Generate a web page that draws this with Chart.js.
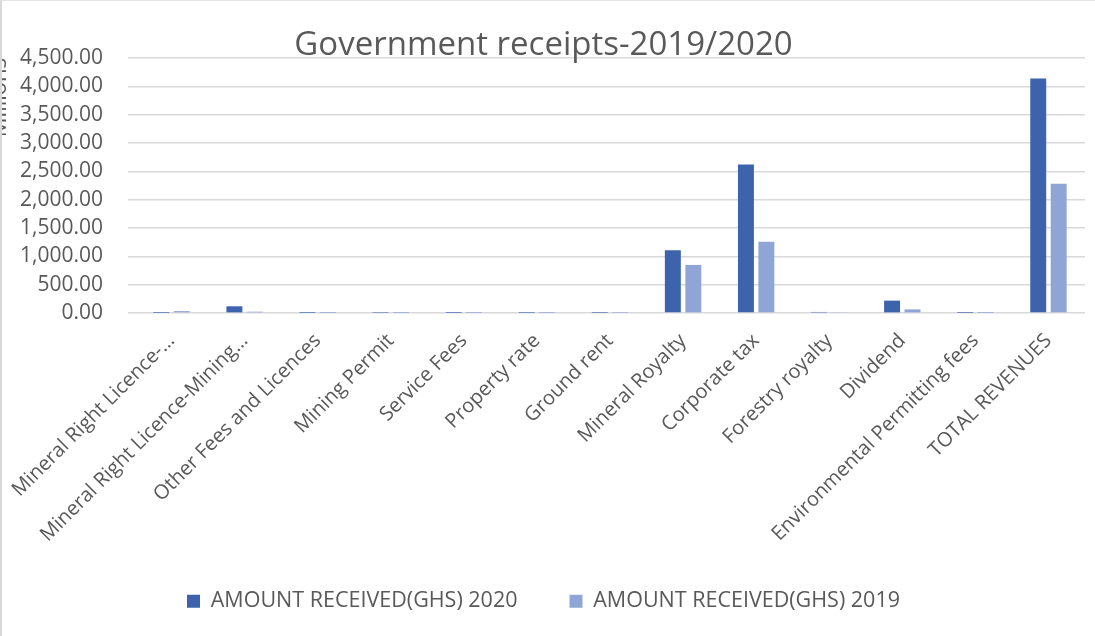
<!DOCTYPE html>
<html>
<head>
<meta charset="utf-8">
<script src="https://cdn.jsdelivr.net/npm/chart.js@4"></script>
<style>
  html, body { margin: 0; padding: 0; background: #fff; }
  .frame {
    width: 1095px; height: 636px; box-sizing: border-box;
    border-left: 2px solid #d9d9d9; border-top: 1px solid #e6e6e6;
    position: relative;
  }
  canvas { display: block; }
</style>
</head>
<body>
<div class="frame"><canvas id="receiptsChart"></canvas></div>
<script>
const categories = [
  'Mineral Right Licence-…',
  'Mineral Right Licence-Mining…',
  'Other Fees and Licences',
  'Mining Permit',
  'Service Fees',
  'Property rate',
  'Ground rent',
  'Mineral Royalty',
  'Corporate tax',
  'Forestry royalty',
  'Dividend',
  'Environmental Permitting fees',
  'TOTAL REVENUES'
];
// millions of GHS
const received2020 = [2, 120, 2, 5, 1, 3, 3, 1110, 2620, 20, 220, 2, 4140];
const received2019 = [35, 25, 1, 2, 1, 2, 4, 850, 1260, 10, 65, 1, 2280];

const textColor = '#595959';
const fontFamily = '"Open Sans", sans-serif';

const ctx = document.getElementById('receiptsChart').getContext('2d');

const receiptsChart = new Chart(ctx, {
  type: 'bar',
  data: {
    labels: categories,
    datasets: [{
      label: 'AMOUNT RECEIVED(GHS) 2020',
      data: received2020,
      backgroundColor: '#3c63ac',
      barPercentage: 0.78,
      categoryPercentage: 0.56
    }, {
      label: 'AMOUNT RECEIVED(GHS) 2019',
      data: received2019,
      backgroundColor: '#8fa5d5',
      barPercentage: 0.78,
      categoryPercentage: 0.56
    }]
  },
  options: {
    responsive: true,
    maintainAspectRatio: false,
    animation: false,
    layout: { padding: { top: 0, right: 10, bottom: 14, left: 0 } },
    plugins: {
      title: {
        display: true,
        text: 'Government receipts-2019/2020',
        color: textColor,
        font: { family: fontFamily, size: 33, weight: 'normal' },
        padding: { top: 25, bottom: -7.6 }
      },
      legend: {
        position: 'bottom',
        // empty legend title with negative padding lets the rotated labels use more room
        title: { display: true, text: '', padding: { top: -34, bottom: 0 } },
        labels: {
          color: textColor,
          font: { family: fontFamily, size: 21.5 },
          boxWidth: 13,
          boxHeight: 13,
          padding: 52
        }
      },
      tooltip: { enabled: false }
    },
    scales: {
      y: {
        min: 0,
        max: 4500,
        afterFit: (scale) => { scale.width = 133; },
        ticks: {
          stepSize: 500,
          autoSkip: false,
          color: textColor,
          padding: 25,
          font: { family: fontFamily, size: 21 },
          callback: (v) => v.toLocaleString('en-US', { minimumFractionDigits: 2, maximumFractionDigits: 2 })
        },
        grid: { color: '#d9d9d9', lineWidth: 1.5, tickLength: 7 },
        border: { display: false },
        title: {
          display: true,
          text: 'Millions',
          align: 'end',
          color: textColor,
          font: { family: fontFamily, size: 22 },
          padding: { top: -15, bottom: 0 }
        }
      },
      x: {
        afterFit: (scale) => { scale.height = 245; },
        ticks: {
          color: textColor,
          font: { family: fontFamily, size: 20 },
          maxRotation: 45,
          minRotation: 45,
          autoSkip: false,
          padding: 8
        },
        grid: { display: false },
        border: { display: false }
      }
    }
  }
});
</script>
</body>
</html>
